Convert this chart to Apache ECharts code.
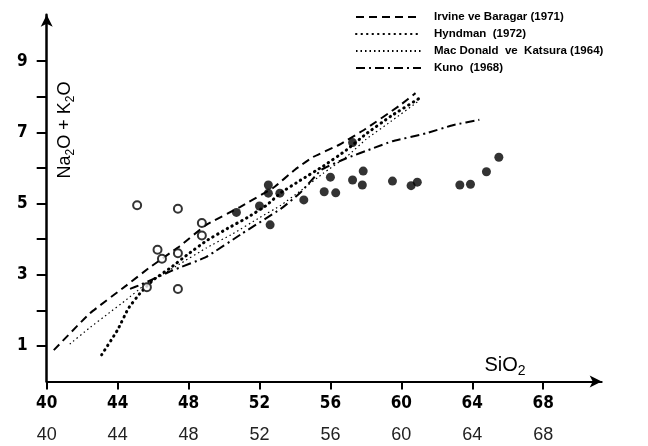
<!DOCTYPE html>
<html>
<head>
<meta charset="utf-8">
<script src="https://cdn.jsdelivr.net/npm/echarts@6/dist/echarts.min.js"></script>
<style>
html,body{margin:0;padding:0;background:#fff;}
#chart{width:648px;height:446px;}
</style>
</head>
<body>
<div id="chart"></div>
<script>
// ---- data ----
const xTickValues = [40, 44, 48, 52, 56, 60, 64, 68];
const yTickValues = [1, 2, 3, 4, 5, 6, 7, 8, 9];
const yLabelValues = [1, 3, 5, 7, 9];

const lineNames = [
  'Irvine ve Baragar (1971)',
  'Hyndman  (1972)',
  'Mac Donald  ve  Katsura (1964)',
  'Kuno  (1968)'
];

const irvineBaragar = [[40.4,0.88],[42.4,1.9],[44.5,2.7],[45.8,3.2],[47.5,3.8],[49.0,4.4],[50.9,4.9],[52.8,5.45],[54.0,5.95],[55.0,6.3],[56.5,6.65],[58.0,7.1],[59.9,7.75],[60.8,8.1]];
const hyndman = [[43.1,0.75],[44.0,1.45],[44.6,2.05],[45.3,2.5],[46.0,2.85],[47.0,3.2],[47.9,3.55],[49.0,3.95],[50.2,4.3],[51.3,4.6],[52.4,4.95],[53.2,5.3],[54.3,5.65],[55.6,6.05],[56.9,6.5],[58.0,6.95],[59.4,7.45],[61.0,7.95]];
const macDonaldKatsura = [[41.3,1.05],[42.4,1.5],[43.4,1.88],[44.5,2.3],[45.5,2.7],[46.5,3.0],[47.5,3.3],[49.0,3.75],[50.5,4.15],[52.0,4.6],[53.2,4.95],[54.3,5.35],[55.6,5.85],[57.0,6.35],[58.0,6.8],[59.4,7.3],[60.9,7.85]];
const kuno = [[44.7,2.6],[45.3,2.72],[47.1,3.12],[49.0,3.5],[51.0,4.15],[53.2,4.85],[54.3,5.3],[55.5,5.95],[56.9,6.27],[58.4,6.55],[59.5,6.75],[61.4,6.97],[62.9,7.2],[64.4,7.35]];

const openSamples = [[45.1,4.95],[47.4,4.85],[48.75,4.45],[48.75,4.1],[46.25,3.7],[46.5,3.45],[47.4,3.6],[47.4,2.6],[45.65,2.65]];
const filledSamples = [[50.7,4.75],[52.0,4.93],[52.5,5.52],[52.5,5.29],[53.15,5.29],[52.6,4.4],[54.5,5.1],[55.65,5.33],[56.3,5.3],[56.0,5.74],[57.25,5.66],[57.25,6.71],[57.85,5.91],[57.8,5.52],[59.5,5.63],[60.55,5.5],[60.9,5.6],[63.3,5.52],[63.9,5.54],[64.8,5.89],[65.5,6.3]];

const fieldLabels = ['ALKALİN', 'SUBALKALİN'];
const fieldLabelPos = [[46.1, 6.22], [50.9, 2.04]];

// ---- chart ----
const chart = echarts.init(document.getElementById('chart'), null, {renderer: 'canvas'});

const scanFont = 'DejaVu Sans Condensed';
const lineStyles = [
  {color: '#000', width: 2, type: [8, 5]},
  {color: '#000', width: 3, type: [0.5, 5], cap: 'round'},
  {color: '#000', width: 1.2, type: [1.5, 3]},
  {color: '#000', width: 2, type: [9, 4, 2, 4]}
];
const lineData = [irvineBaragar, hyndman, macDonaldKatsura, kuno];

const series = lineData.map((d, i) => ({
  name: lineNames[i],
  type: 'line',
  data: d,
  smooth: 0.12,
  symbol: 'none',
  showSymbol: false,
  lineStyle: lineStyles[i],
  itemStyle: {color: '#000'},
  z: 3
}));

series.push({
  type: 'scatter',
  data: openSamples,
  symbol: 'circle',
  symbolSize: 8,
  itemStyle: {color: '#fff', borderColor: '#000', borderWidth: 2},
  z: 5
});
series.push({
  type: 'scatter',
  data: filledSamples,
  symbol: 'circle',
  symbolSize: 9,
  itemStyle: {color: '#000'},
  z: 5
});
series.push({
  type: 'scatter',
  data: fieldLabelPos.map((p, i) => ({value: p, name: fieldLabels[i]})),
  symbol: 'none',
  symbolSize: 0,
  silent: true,
  label: {
    show: true,
    position: 'inside',
    formatter: p => p.name,
    fontFamily: scanFont,
    fontWeight: 'bold',
    fontSize: 11,
    color: '#000'
  },
  z: 4
});

const option = {
  animation: false,
  backgroundColor: '#fff',
  grid: {left: 46.7, right: 46.3, top: 14.8, bottom: 64.5, containLabel: false},
  legend: {
    orient: 'vertical',
    left: 350,
    top: 6,
    itemWidth: 65,
    itemHeight: 8,
    itemGap: 5,
    data: lineNames,
    itemStyle: {opacity: 0, borderWidth: 0},
    textStyle: {
      fontFamily: 'Liberation Sans',
      fontWeight: 'bold',
      fontSize: 11.5,
      color: '#000',
      padding: [0, 0, 0, 8]
    }
  },
  xAxis: [
    {
      type: 'value',
      min: 40,
      max: 71.3,
      interval: 4,
      position: 'bottom',
      splitLine: {show: false},
      axisLine: {
        show: true,
        onZero: false,
        symbol: ['none', 'arrow'],
        symbolSize: [9, 12],
        lineStyle: {color: '#000', width: 2}
      },
      axisTick: {show: true, inside: false, length: 8, customValues: xTickValues, lineStyle: {color: '#000', width: 2}},
      axisLabel: {
        show: true, margin: 14, customValues: xTickValues,
        fontFamily: scanFont, fontWeight: 'bold', fontSize: 17, color: '#000'
      }
    },
    {
      type: 'value',
      min: 40,
      max: 71.3,
      interval: 4,
      position: 'bottom',
      splitLine: {show: false},
      axisLine: {show: false},
      axisTick: {show: false},
      axisLabel: {
        show: true, margin: 45, customValues: xTickValues,
        fontFamily: 'Liberation Sans', fontSize: 18, color: '#222'
      }
    }
  ],
  yAxis: {
    type: 'value',
    min: 0,
    max: 10.3,
    interval: 1,
    splitLine: {show: false},
    axisLine: {
      show: true,
      onZero: false,
      symbol: ['none', 'arrow'],
      symbolSize: [9, 12],
      lineStyle: {color: '#000', width: 2.5}
    },
    axisTick: {show: true, inside: false, length: 10, customValues: yTickValues, lineStyle: {color: '#000', width: 2}},
    axisLabel: {
      show: true, margin: 19, customValues: yLabelValues,
      fontFamily: scanFont, fontWeight: 'bold', fontSize: 17, color: '#000'
    }
  },
  graphic: [
    {
      type: 'text',
      x: 65, y: 130,
      rotation: Math.PI / 2,
      style: {
        text: '{n|Na}{s|2}{n|O + K}{s|2}{n|O}',
        align: 'center',
        verticalAlign: 'middle',
        rich: {
          n: {fontFamily: 'Liberation Sans', fontSize: 18, fill: '#000', verticalAlign: 'middle'},
          s: {fontFamily: 'Liberation Sans', fontSize: 12, fill: '#000', padding: [12, 0, 0, 0]}
        }
      }
    },
    {
      type: 'text',
      x: 505, y: 365,
      style: {
        text: '{n|SiO}{s|2}',
        align: 'center',
        verticalAlign: 'middle',
        rich: {
          n: {fontFamily: 'Liberation Sans', fontSize: 20, fill: '#000'},
          s: {fontFamily: 'Liberation Sans', fontSize: 14, fill: '#000', padding: [12, 0, 0, 0]}
        }
      }
    }
  ],
  series: series
};

chart.setOption(option);
</script>
</body>
</html>
